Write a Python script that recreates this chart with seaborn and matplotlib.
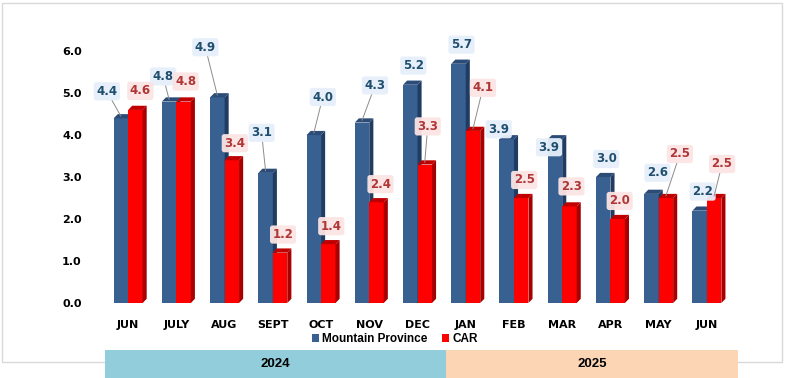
import numpy as np
import pandas as pd
import matplotlib
matplotlib.use('Agg')
import matplotlib.pyplot as plt
from matplotlib.patches import Polygon, Rectangle, Patch
import seaborn as sns

# data
months = ['JUN', 'JULY', 'AUG', 'SEPT', 'OCT', 'NOV', 'DEC',
          'JAN', 'FEB', 'MAR', 'APR', 'MAY', 'JUN']
years = ['2024'] * 7 + ['2025'] * 6
mountain_province = [4.4, 4.8, 4.9, 3.1, 4.0, 4.3, 5.2, 5.7, 3.9, 3.9, 3.0, 2.6, 2.2]
car = [4.6, 4.8, 3.4, 1.2, 1.4, 2.4, 3.3, 4.1, 2.5, 2.3, 2.0, 2.5, 2.5]
series_names = ['Mountain Province', 'CAR']

# label placement (pixel offsets from bar top) and leader-line flags
mp_offsets = [(-14, 25), (-6, 23), (-12, 48), (-4, 38), (9, 36), (13, 35), (3, 17),
              (3, 17), (-8, 8), (-6, -10), (3, 16), (6, 19), (3, 17)]
mp_leader = [1, 1, 1, 1, 1, 1, 0, 0, 0, 0, 0, 0, 0]
car_offsets = [(5, 17), (2, 18), (3, 15), (3, 16), (3, 16), (4, 16), (3, 36),
               (10, 41), (3, 16), (2, 18), (2, 16), (14, 42), (8, 32)]
car_leader = [0, 0, 0, 0, 0, 0, 1, 1, 0, 0, 0, 1, 1]

blue, blue_side, blue_top = '#386192', '#213C63', '#2C4C78'
red, red_side, red_top = '#FF0000', '#A80000', '#C00000'

periods = [f'{m} {y}' for m, y in zip(months, years)]
df = pd.DataFrame({
    'period': periods * 2,
    'value': mountain_province + car,
    'series': [series_names[0]] * len(periods) + [series_names[1]] * len(periods),
})

sns.set_theme(style='white')
plt.rcParams['font.family'] = ['DejaVu Sans']
plt.rcParams['text.color'] = 'black'

W, H = 786, 378
fig = plt.figure(figsize=(W / 100, H / 100), dpi=100)
ax = fig.add_axes([104 / W, 75 / H, 627 / W, 277 / H])

sns.barplot(data=df, x='period', y='value', hue='series', order=periods,
            hue_order=series_names, palette=[blue, red], width=0.6,
            saturation=1, legend=False, ax=ax)

ax.set_xlim(-0.5, len(periods) - 0.5)
ax.set_ylim(0, 6.6)

# fake 3D: side and top faces for every bar
dx, dy = 0.085, 0.1
faces = [(blue_side, blue_top, 2), (red_side, red_top, 3)]
for cont, (side_c, top_c, z) in zip(ax.containers, faces):
    for bar in cont:
        bar.set_edgecolor('none')
        bar.set_zorder(z)
        x0, w, h = bar.get_x(), bar.get_width(), bar.get_height()
        ax.add_patch(Polygon([(x0 + w, 0), (x0 + w, h), (x0 + w + dx, h + dy),
                              (x0 + w + dx, dy)], closed=True, fc=side_c,
                             ec='none', zorder=z + 0.1))
        ax.add_patch(Polygon([(x0, h), (x0 + w, h), (x0 + w + dx, h + dy),
                              (x0 + dx, h + dy)], closed=True, fc=top_c,
                             ec='none', zorder=z + 0.1))

# value labels
label_styles = [
    (mp_offsets, mp_leader, '#1F4E6E', '#E6F0FA'),
    (car_offsets, car_leader, '#B03636', '#FBE4E4'),
]
for cont, vals, (offs, leads, tc, bc) in zip(ax.containers, [mountain_province, car], label_styles):
    for bar, v, off, lead in zip(cont, vals, offs, leads):
        cx = bar.get_x() + bar.get_width() / 2
        kw = {}
        if lead:
            kw['arrowprops'] = dict(arrowstyle='-', color='#8C8C8C', lw=0.7,
                                    shrinkA=0, shrinkB=0)
        ax.annotate(f'{v:.1f}', xy=(cx, v + dy * 0.5), xytext=off,
                    textcoords='offset pixels', ha='center', va='center',
                    fontsize=8.5, fontweight='bold', color=tc, zorder=6,
                    bbox=dict(boxstyle='round,pad=0.22', fc=bc, ec='none', alpha=0.95),
                    **kw)

ax.set_yticks(np.arange(0, 7, 1.0))
ax.set_yticklabels([f'{t:.1f}' for t in np.arange(0, 7, 1.0)])
ax.set_xticks(range(len(months)))
ax.set_xticklabels(months)
ax.set_xlabel('')
ax.set_ylabel('')
ax.tick_params(axis='both', length=0, labelsize=8, labelcolor='black')
ax.tick_params(axis='y', pad=16)
ax.tick_params(axis='x', pad=12)
for lab in ax.get_xticklabels() + ax.get_yticklabels():
    lab.set_fontweight('bold')
sns.despine(ax=ax, left=True, bottom=True)

# outer border
fig.add_artist(Rectangle((2 / W, 1 - 362 / H), 780 / W, 359 / H,
                         transform=fig.transFigure, fill=False,
                         ec='#D9D9D9', lw=1, zorder=0))

# year bands
band_l, band_r = 105 / W, 738 / W
n24 = years.count('2024')
split = band_l + (band_r - band_l) * n24 / len(years)
band_h = 28 / H
for x0, x1, yr, col in [(band_l, split, '2024', '#92CDDC'), (split, band_r, '2025', '#FCD5B4')]:
    fig.add_artist(Rectangle((x0, 0), x1 - x0, band_h, transform=fig.transFigure,
                             fc=col, ec='none', zorder=3))
    fig.text((x0 + x1) / 2, band_h / 2, yr, ha='center', va='center', color='black',
             fontsize=9.5, fontweight='bold', family=['Liberation Sans'], zorder=4)

# legend
handles = [Patch(fc=blue, ec='none'), Patch(fc=red, ec='none')]
leg = fig.legend(handles, series_names, loc='center', bbox_to_anchor=(395 / W, 1 - 339 / H),
                 ncol=2, frameon=False, handlelength=0.6, handleheight=0.6,
                 handletextpad=0.3, columnspacing=1.2,
                 prop=dict(family='Liberation Sans', weight='bold', size=8.5))
for t in leg.get_texts():
    t.set_color('black')

fig.savefig('out.png', dpi=100)
